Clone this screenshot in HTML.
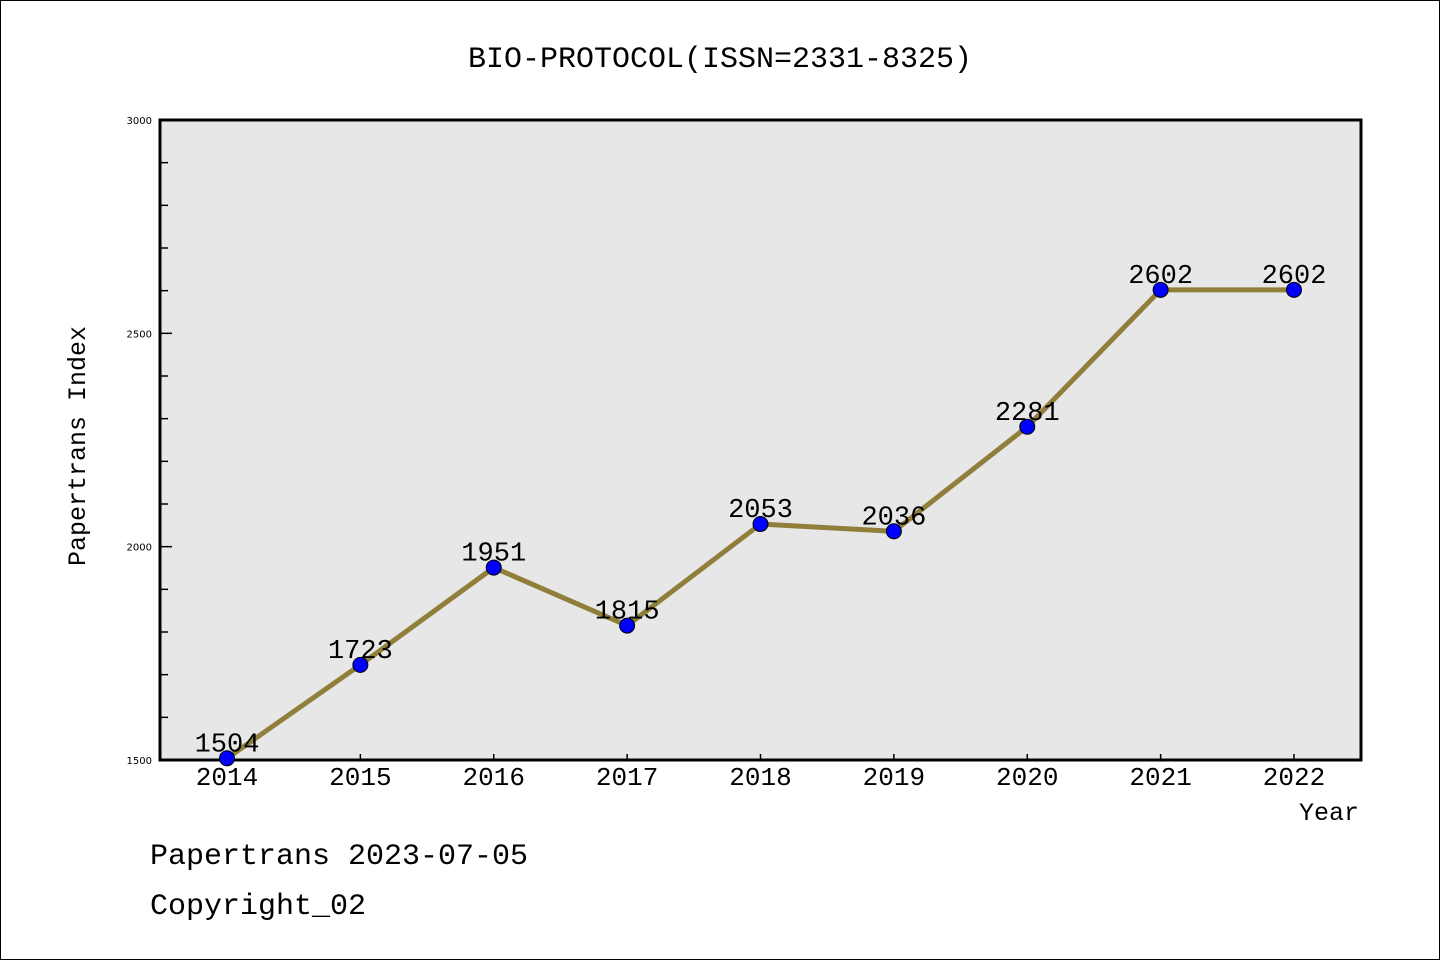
<!DOCTYPE html>
<html><head><meta charset="utf-8"><style>
html,body{margin:0;padding:0;background:#fff;}
svg{display:block;}
text{font-family:"Liberation Mono","Noto Sans CJK SC",monospace;fill:#000;}
text.sans{font-family:"DejaVu Sans","Liberation Sans",sans-serif;}
</style></head><body>
<svg width="1440" height="960">
<rect x="0.5" y="0.5" width="1439" height="959" fill="#fff" stroke="#000"/>
<text x="720" y="67" font-size="30" text-anchor="middle">BIO-PROTOCOL(ISSN=2331-8325)</text>
<rect x="160" y="120" width="1201" height="640" fill="#e7e7e7"/>
<g id="grid"></g>
<rect x="160" y="120" width="1201" height="640" fill="none" stroke="#000" stroke-width="3"/>
<g id="marks"></g>
<text transform="translate(85,446) rotate(-90)" font-size="25" text-anchor="middle">Papertrans Index</text>
<text x="1359" y="820" font-size="25" text-anchor="end">Year</text>
<text x="150" y="864" font-size="30">Papertrans 2023-07-05</text>
<text x="150" y="914" font-size="30">Copyright_02</text>
</svg>
<script>
const years=[2014,2015,2016,2017,2018,2019,2020,2021,2022];
const values=[1504,1723,1951,1815,2053,2036,2281,2602,2602];
const yTicks=[1500,2000,2500,3000];
const NS="http://www.w3.org/2000/svg";
const X0=227,X1=1294,PTOP=120,PBOT=760,YMIN=1500,YMAX=3000;
function sx(i){return X0+(X1-X0)*i/(years.length-1);}
function sy(v){return PBOT-(v-YMIN)/(YMAX-YMIN)*(PBOT-PTOP);}
function mk(t,a,p){const e=document.createElementNS(NS,t);for(const k in a)e.setAttribute(k,a[k]);p.appendChild(e);return e;}
const g=document.getElementById('grid'),m=document.getElementById('marks');
for(let v=YMIN;v<=YMAX;v+=100){
 const major=v%500===0;
 const t=mk('line',{x1:160,x2:major?172:168,y1:sy(v),y2:sy(v),stroke:'#000','stroke-width':1.5},g);
 
 
}
yTicks.forEach(v=>{
 const t=mk('text',{x:152,y:sy(v)+4,'font-size':10,'text-anchor':'end','class':'sans'},g);t.textContent=v;
 
 
});
years.forEach((y,i)=>{
 const t=mk('line',{x1:sx(i),x2:sx(i),y1:PBOT,y2:PBOT-6,stroke:'#000','stroke-width':1.5},g);
 
 
 const l=mk('text',{x:sx(i),y:785,'font-size':26,'text-anchor':'middle'},g);l.textContent=y;
 
 
});
const pl=mk('polyline',{points:values.map((v,i)=>sx(i)+','+sy(v)).join(' '),fill:'none',stroke:'#8f7f3b','stroke-width':5,'stroke-linejoin':'round'},m);


values.forEach((v,i)=>{
 const c=mk('circle',{cx:sx(i),cy:sy(v),r:7.5,fill:'#0000ff',stroke:'#000','stroke-width':1},m);
 
 
 const l=mk('text',{x:sx(i),y:sy(v)-7,'font-size':27,'text-anchor':'middle'},m);l.textContent=v;
 
 
});
</script>
</body></html>
